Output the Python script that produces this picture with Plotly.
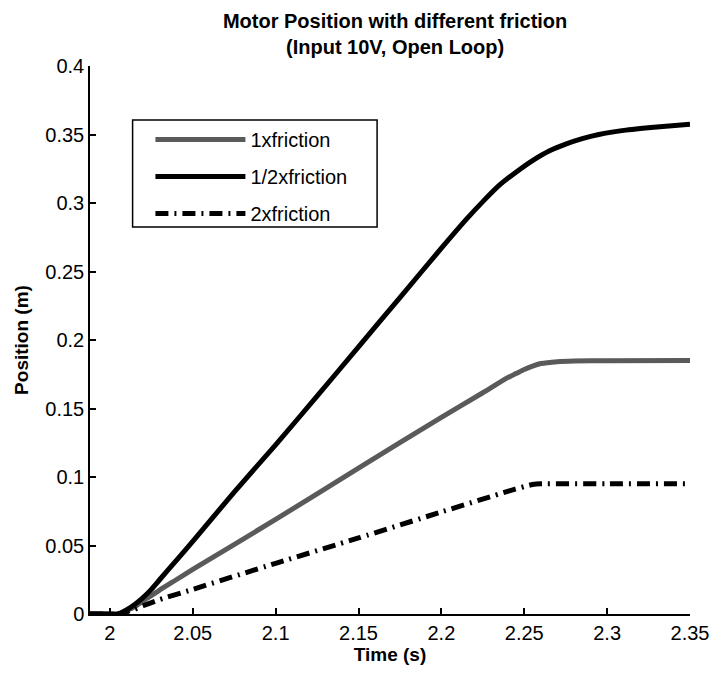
import plotly.graph_objects as go

# ---- data ----
t_half = [1.988, 2.0, 2.005, 2.01, 2.015, 2.02, 2.025, 2.03, 2.04, 2.05, 2.075, 2.1, 2.125,
          2.15, 2.175, 2.2, 2.215, 2.225, 2.235, 2.245, 2.255, 2.265, 2.275, 2.285, 2.295,
          2.31, 2.33, 2.35]
pos_half = [0.0, 0.0, 0.0, 0.003, 0.007, 0.012, 0.018, 0.025, 0.039, 0.053, 0.089, 0.1235, 0.159,
            0.195, 0.231, 0.267, 0.288, 0.301, 0.313, 0.3225, 0.331, 0.338, 0.343, 0.347, 0.350,
            0.353, 0.3555, 0.3575]

t_one = [1.988, 2.0, 2.005, 2.01, 2.015, 2.02, 2.03, 2.04, 2.05, 2.1, 2.15, 2.2, 2.225, 2.24,
         2.245, 2.25, 2.255, 2.26, 2.27, 2.28, 2.3, 2.35]
pos_one = [0.0, 0.0, 0.0, 0.0025, 0.0055, 0.0095, 0.0175, 0.025, 0.0325, 0.069, 0.1065, 0.1435,
           0.1615, 0.1725, 0.1755, 0.1785, 0.181, 0.1828, 0.1842, 0.1847, 0.1849, 0.185]

t_two = [1.988, 2.0, 2.005, 2.01, 2.015, 2.02, 2.03, 2.05, 2.1, 2.15, 2.2, 2.24, 2.25, 2.255,
         2.26, 2.3, 2.35]
pos_two = [0.0, 0.0, 0.0, 0.0015, 0.0035, 0.006, 0.0105, 0.018, 0.037, 0.0555, 0.0745, 0.0895,
           0.093, 0.0945, 0.095, 0.095, 0.095]

x_ticks = [2.0, 2.05, 2.1, 2.15, 2.2, 2.25, 2.3, 2.35]
x_tick_labels = ["2", "2.05", "2.1", "2.15", "2.2", "2.25", "2.3", "2.35"]
y_ticks = [0, 0.05, 0.1, 0.15, 0.2, 0.25, 0.3, 0.35, 0.4]
y_tick_labels = ["0", "0.05", "0.1", "0.15", "0.2", "0.25", "0.3", "0.35", "0.4"]

FONT = "Liberation Sans, Arial, sans-serif"

fig = go.Figure()
fig.add_trace(go.Scatter(x=t_one, y=pos_one, mode="lines", name="1xfriction",
                         legendgroup="a",
                         line=dict(color="#5a5a5a", width=5, shape="spline", smoothing=0.6)))
fig.add_trace(go.Scatter(x=t_half, y=pos_half, mode="lines", name="1/2xfriction",
                         legendgroup="b",
                         line=dict(color="black", width=5, shape="spline", smoothing=0.6)))
fig.add_trace(go.Scatter(x=t_two, y=pos_two, mode="lines", name="2xfriction",
                         legendgroup="c",
                         line=dict(color="black", width=5, dash="13px,6px,2px,6px",
                                   shape="spline", smoothing=0.6)))

fig.update_layout(
    width=721, height=677,
    margin=dict(l=90, r=25, t=66, b=63),
    paper_bgcolor="white", plot_bgcolor="white",
    font=dict(family=FONT, size=20, color="black"),
    title=dict(text="Motor Position with different friction<br>(Input 10V, Open Loop)",
               x=0.548, xanchor="center", y=1 - 28 / 677, yanchor="middle",
               font=dict(family=FONT, size=20, weight="bold")),
    showlegend=True,
    legend=dict(x=0.1007, y=0.9015, xanchor="left", yanchor="top",
                borderwidth=0, bgcolor="rgba(0,0,0,0)",
                font=dict(family=FONT, size=20), tracegroupgap=8,
                itemwidth=90),
    shapes=[dict(type="rect", xref="paper", yref="paper",
                 x0=0.071, x1=0.4785, y0=0.7062, y1=0.9015,
                 line=dict(color="black", width=1.5), fillcolor="rgba(0,0,0,0)",
                 layer="above")],
)
fig.update_xaxes(range=[1.988, 2.35], tickvals=x_ticks, ticktext=x_tick_labels,
                 showline=True, linecolor="black", linewidth=1.5,
                 ticks="inside", ticklen=6, tickwidth=1.5, tickcolor="black",
                 showgrid=False, zeroline=False,
                 title=dict(text="<b>Time (s)</b>", standoff=4,
                            font=dict(family=FONT, size=19)))
fig.update_yaxes(range=[0, 0.4], tickvals=y_ticks, ticktext=y_tick_labels,
                 showline=True, linecolor="black", linewidth=1.5,
                 ticks="inside", ticklen=6, tickwidth=1.5, tickcolor="black",
                 showgrid=False, zeroline=False,
                 title=dict(text="<b>Position (m)</b>", standoff=12,
                            font=dict(family=FONT, size=19)))

fig.write_html("out.html")
